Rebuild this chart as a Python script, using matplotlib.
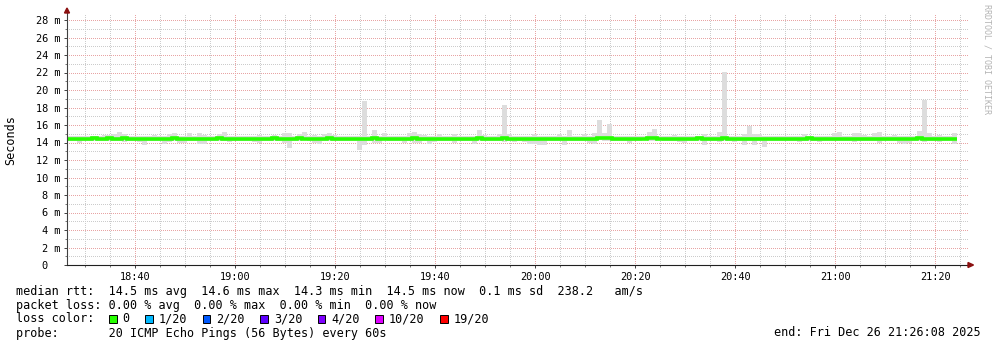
import matplotlib
matplotlib.use("Agg")
import numpy as np
import matplotlib.pyplot as plt
from matplotlib.ticker import MultipleLocator, FuncFormatter
from matplotlib.patches import Rectangle, Polygon

# --- DATA (values in ms) ---
first_sample_min = 26.4   # minutes after 18:00 of the first 1-minute column
sample_step_min = 1.0

rtt_max = [
    14.70, 14.70, 14.75, 14.70, 14.75, 14.70, 14.75, 14.86, 14.86, 14.93,
    15.24, 14.95, 14.70, 14.75, 14.70, 14.80, 14.75, 14.86, 14.75, 14.80,
    14.95, 15.12, 14.80, 14.75, 15.05, 14.75, 15.12, 14.90, 14.70, 14.75,
    14.93, 15.24, 14.80, 14.70, 14.75, 14.70, 14.75, 14.70, 14.86, 14.70,
    14.70, 14.86, 14.75, 15.12, 15.12, 14.75, 14.93, 15.20, 14.75, 14.86,
    14.75, 14.93, 15.12, 14.86, 14.70, 14.75, 14.70, 14.70, 14.75, 18.74,
    14.75, 15.43, 14.80, 15.05, 14.75, 14.70, 14.70, 14.75, 15.05, 15.15,
    14.95, 14.86, 14.75, 14.70, 14.95, 14.75, 14.70, 14.95, 14.75, 14.70,
    14.70, 14.75, 15.43, 14.86, 14.75, 14.70, 14.95, 18.29, 14.93, 14.75,
    14.75, 14.75, 14.80, 14.93, 14.75, 14.75, 14.70, 14.70, 14.93, 14.75,
    15.43, 14.75, 14.75, 14.93, 14.75, 15.12, 16.57, 15.05, 16.10, 14.75,
    14.75, 14.75, 14.75, 14.80, 14.80, 14.75, 15.15, 15.50, 14.75, 14.70,
    14.75, 14.86, 14.75, 14.70, 14.70, 14.75, 14.80, 14.97, 14.70, 14.75,
    15.24, 22.02, 14.75, 14.70, 14.75, 15.00, 15.89, 15.00, 15.00, 14.75,
    14.70, 14.75, 14.75, 14.80, 14.80, 14.75, 14.70, 15.00, 14.80, 14.75,
    14.75, 14.70, 14.70, 15.12, 15.20, 14.75, 14.75, 15.12, 15.05, 14.86,
    14.75, 15.05, 15.16, 14.75, 14.70, 14.86, 14.75, 14.70, 14.75, 14.75,
    15.35, 18.86, 15.12, 14.75, 14.86, 14.75, 14.70, 15.12,
]

rtt_min = [
    14.20, 14.20, 14.00, 14.20, 14.15, 14.20, 14.20, 14.15, 14.20, 14.20,
    14.15, 14.10, 14.20, 14.20, 14.10, 13.70, 14.20, 14.15, 14.20, 13.80,
    14.10, 14.20, 13.90, 13.90, 14.15, 14.20, 13.80, 13.80, 14.20, 14.15,
    14.20, 14.20, 14.10, 14.20, 14.15, 14.20, 14.20, 14.10, 13.90, 14.20,
    14.20, 14.20, 14.15, 13.90, 13.40, 14.20, 14.15, 14.30, 14.20, 13.90,
    13.80, 14.15, 14.20, 14.20, 14.20, 14.15, 14.20, 14.20, 13.15, 13.70,
    14.20, 13.90, 13.90, 14.25, 14.20, 14.20, 14.15, 13.90, 14.20, 14.00,
    13.90, 14.20, 13.80, 14.10, 14.20, 14.20, 14.15, 13.90, 14.20, 14.20,
    14.15, 13.80, 14.20, 14.20, 14.15, 14.20, 14.20, 14.10, 14.20, 14.10,
    14.20, 14.10, 13.80, 13.80, 13.70, 13.70, 14.20, 14.15, 14.20, 13.70,
    14.20, 14.20, 14.15, 14.20, 14.00, 13.80, 14.25, 14.20, 14.20, 14.15,
    14.20, 14.20, 14.00, 14.20, 14.20, 14.25, 14.20, 14.20, 14.25, 14.20,
    14.20, 14.17, 14.10, 14.00, 14.20, 14.20, 14.15, 13.71, 14.20, 14.20,
    14.10, 14.20, 14.20, 14.10, 14.20, 13.70, 14.20, 13.70, 14.20, 13.52,
    14.20, 14.20, 14.15, 14.20, 14.20, 14.20, 14.10, 14.20, 14.20, 14.20,
    14.10, 14.20, 14.15, 14.20, 14.20, 14.20, 14.15, 14.10, 14.20, 14.20,
    14.20, 14.15, 14.00, 14.20, 14.20, 14.20, 13.90, 13.80, 14.00, 14.20,
    14.20, 14.10, 14.20, 14.20, 14.10, 14.20, 14.20, 13.80,
]

rtt_median = [
    14.45, 14.45, 14.40, 14.45, 14.45, 14.50, 14.45, 14.45, 14.50, 14.45,
    14.45, 14.50, 14.45, 14.45, 14.40, 14.45, 14.45, 14.45, 14.40, 14.45,
    14.45, 14.50, 14.45, 14.40, 14.45, 14.45, 14.45, 14.40, 14.45, 14.45,
    14.50, 14.45, 14.40, 14.45, 14.45, 14.45, 14.45, 14.40, 14.45, 14.45,
    14.45, 14.50, 14.45, 14.45, 14.40, 14.45, 14.50, 14.45, 14.45, 14.40,
    14.45, 14.45, 14.50, 14.45, 14.45, 14.40, 14.40, 14.45, 14.40, 14.45,
    14.45, 14.50, 14.45, 14.45, 14.45, 14.45, 14.40, 14.45, 14.45, 14.50,
    14.45, 14.45, 14.40, 14.45, 14.45, 14.45, 14.45, 14.40, 14.45, 14.45,
    14.45, 14.40, 14.50, 14.45, 14.45, 14.45, 14.45, 14.50, 14.45, 14.45,
    14.40, 14.45, 14.40, 14.40, 14.40, 14.45, 14.45, 14.45, 14.45, 14.40,
    14.45, 14.45, 14.45, 14.45, 14.40, 14.45, 14.50, 14.50, 14.50, 14.45,
    14.45, 14.45, 14.40, 14.45, 14.45, 14.45, 14.50, 14.50, 14.45, 14.45,
    14.45, 14.40, 14.40, 14.40, 14.45, 14.45, 14.50, 14.45, 14.45, 14.45,
    14.45, 14.50, 14.40, 14.45, 14.45, 14.40, 14.45, 14.40, 14.45, 14.35,
    14.40, 14.40, 14.40, 14.45, 14.45, 14.45, 14.40, 14.45, 14.50, 14.45,
    14.45, 14.40, 14.40, 14.45, 14.45, 14.45, 14.45, 14.40, 14.45, 14.45,
    14.45, 14.45, 14.45, 14.45, 14.45, 14.45, 14.40, 14.40, 14.40, 14.45,
    14.50, 14.45, 14.45, 14.40, 14.40, 14.45, 14.45, 14.40,
]

loss_labels = ["0", "1/20", "2/20", "3/20", "4/20", "10/20", "19/20"]
loss_colors = ["#26ff00", "#00b8ff", "#0059ff", "#5e00ff", "#7e00ff", "#dd00ff", "#ff0000"]

stats_line = "median rtt:  14.5 ms avg  14.6 ms max  14.3 ms min  14.5 ms now  0.1 ms sd  238.2   am/s"
loss_line = "packet loss: 0.00 % avg  0.00 % max  0.00 % min  0.00 % now"
probe_line = "probe:       20 ICMP Echo Pings (56 Bytes) every 60s"
end_line = "end: Fri Dec 26 21:26:08 2025"

# --- LAYOUT ---
W, H = 997, 347
MONO = "DejaVu Sans Mono"
plt.rcParams['font.family'] = MONO

view_start = 26.34            # minutes after 18:00 at the left edge
view_len = 180.2
px_per_ms = 8.75

def fx(px):
    return px / W

def fy(py):
    return 1 - py / H

fig = plt.figure(figsize=(W / 100, H / 100), dpi=100)
ax = fig.add_axes([fx(67), fy(265), (968 - 67) / W, (265 - 13) / H])
ax.set_axisbelow(True)

edges = first_sample_min + sample_step_min * np.arange(len(rtt_max) + 1)
# smoke (min..max spread of the pings)
ax.stairs(rtt_max, edges, baseline=rtt_min, fill=True, color="#dddddd", linewidth=0)
# median rtt coloured by loss (all 0 loss -> green)
ax.stairs(rtt_median, edges, baseline=None, color=loss_colors[0], linewidth=2.6)

ax.set_xlim(view_start, view_start + view_len)
ax.set_ylim(0, (265 - 13) / px_per_ms)

ax.xaxis.set_major_locator(MultipleLocator(20))
ax.xaxis.set_minor_locator(MultipleLocator(5))
ax.yaxis.set_major_locator(MultipleLocator(2))
ax.yaxis.set_minor_locator(MultipleLocator(1))

def time_fmt(m, pos):
    m = int(round(m))
    return f"{18 + m // 60:02d}:{m % 60:02d}"

def y_fmt(v, pos):
    return "0  " if abs(v) < 1e-9 else f"{v:.0f} m"

ax.xaxis.set_major_formatter(FuncFormatter(time_fmt))
ax.yaxis.set_major_formatter(FuncFormatter(y_fmt))

dots = (0, (1, 2))
ax.grid(which="minor", color="#cccccc", linestyle=dots, linewidth=0.72, antialiased=False)
ax.grid(which="major", color="#e8a4a4", linestyle=dots, linewidth=0.72, antialiased=False)

for s in ("top", "right"):
    ax.spines[s].set_visible(False)
ax.spines["left"].set_color("#404040")
ax.spines["bottom"].set_color("#202020")
ax.spines["left"].set_linewidth(0.8)
ax.spines["bottom"].set_linewidth(0.8)

ax.tick_params(which="major", length=2.5, width=0.7, color="#404040",
               labelsize=7.4, pad=2.2)
ax.tick_params(which="minor", length=1.5, width=0.6, color="#606060")

# arrows at the axis ends
arrow_col = "#8b1010"
fig.add_artist(Polygon([(fx(64.5), fy(13)), (fx(69.5), fy(13)), (fx(67), fy(8))],
                       closed=True, transform=fig.transFigure, color=arrow_col))
fig.add_artist(Polygon([(fx(968), fy(262.5)), (fx(968), fy(267.5)), (fx(973.5), fy(265))],
                       closed=True, transform=fig.transFigure, color=arrow_col))

# axis unit + watermark
fig.text(fx(11), fy(140), "Seconds", rotation=90, ha="center", va="center", fontsize=8.45)
fig.text(fx(987), fy(4), "RRDTOOL / TOBI OETIKER", rotation=270, ha="center", va="top",
         fontsize=6, color="#b4b4b4")

# legend block
fs = 8.45
fig.text(fx(16), fy(294.5), stats_line, fontsize=fs, va="baseline")
fig.text(fx(16), fy(308.5), loss_line, fontsize=fs, va="baseline")
fig.text(fx(16), fy(322.5), "loss color:", fontsize=fs, va="baseline")
fig.text(fx(16), fy(336.5), probe_line, fontsize=fs, va="baseline")
fig.text(fx(981), fy(336.5), end_line, fontsize=fs, va="baseline", ha="right")

xpos = 109.0
for lab, col in zip(loss_labels, loss_colors):
    fig.add_artist(Rectangle((fx(xpos), fy(322.5)), 7.5 / W, 7.5 / H,
                             transform=fig.transFigure, facecolor=col,
                             edgecolor="black", linewidth=0.7))
    fig.text(fx(xpos + 13.5), fy(322.5), lab, fontsize=fs, va="baseline")
    xpos += (len(lab) + 4) * 7.2

fig.savefig("out.png", dpi=100)
